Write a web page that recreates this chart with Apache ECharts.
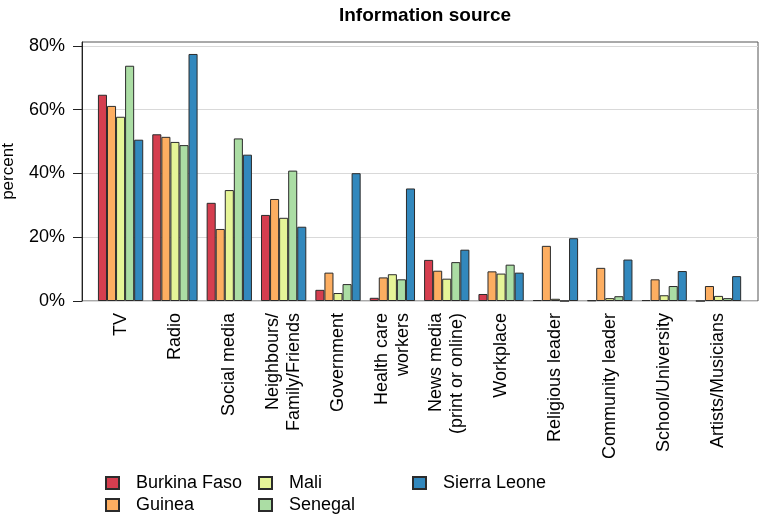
<!DOCTYPE html>
<html>
<head>
<meta charset="utf-8">
<script src="https://cdn.jsdelivr.net/npm/echarts@6/dist/echarts.min.js"></script>
<style>
html,body{margin:0;padding:0;background:#fff;}
#chart{width:759px;height:515px;}
</style>
</head>
<body>
<div id="chart"></div>
<script>
var categories = ['TV', 'Radio', 'Social media', 'Neighbours/\nFamily/Friends', 'Government',
  'Health care\nworkers', 'News media\n(print or online)', 'Workplace', 'Religious leader',
  'Community leader', 'School/University', 'Artists/Musicians'];
var countries = ['Burkina Faso', 'Guinea', 'Mali', 'Senegal', 'Sierra Leone'];
var burkinaFaso = [64.7, 52.3, 30.8, 27.0, 3.5, 1.0, 12.9, 2.2, 0.3, 0.2, 0.3, 0.0];
var guinea      = [61.2, 51.5, 22.6, 32.0, 8.9, 7.4, 9.5, 9.3, 17.3, 10.4, 6.8, 4.7];
var mali        = [57.8, 49.9, 34.8, 26.1, 2.5, 8.4, 7.0, 8.6, 0.7, 0.9, 1.8, 1.6];
var senegal     = [73.8, 48.9, 51.0, 40.9, 5.3, 6.8, 12.2, 11.4, 0.0, 1.5, 4.7, 0.9];
var sierraLeone = [50.6, 77.5, 45.9, 23.3, 40.1, 35.3, 16.1, 8.9, 19.7, 13.0, 9.4, 7.8];
var yTicks = [0, 20, 40, 60, 80];

var colors = ['#d53e4f', '#fdae61', '#e6f598', '#abdda4', '#3288bd'];
var seriesData = [burkinaFaso, guinea, mali, senegal, sierraLeone];
var FONT = '"Liberation Sans", Arial, Helvetica, sans-serif';
var YMAX = 81.25;

var chart = echarts.init(document.getElementById('chart'), null, {renderer: 'canvas'});

var series = countries.map(function (name, i) {
  return {
    name: name,
    type: 'bar',
    xAxisIndex: 1,
    yAxisIndex: 1,
    data: seriesData[i],
    barWidth: 9.06,
    barGap: '0%',
    itemStyle: {color: colors[i], borderColor: '#2b2b2b', borderWidth: 1},
    emphasis: {disabled: true},
    animation: false
  };
});

function legendFor(names, left) {
  return {
    data: names,
    orient: 'vertical',
    left: left,
    top: 474,
    padding: 0,
    itemWidth: 13,
    itemHeight: 12,
    itemGap: 4,
    icon: 'rect',
    selectedMode: false,
    textStyle: {fontFamily: FONT, fontSize: 18, color: '#000', padding: [0, 0, 0, 12]}
  };
}

var option = {
  backgroundColor: '#fff',
  animation: false,
  textStyle: {fontFamily: FONT},
  title: {
    text: 'Information source',
    left: 420,
    top: 1,
    textAlign: 'center',
    textStyle: {fontFamily: FONT, fontSize: 19, fontWeight: 'bold', color: '#000'}
  },
  legend: [
    legendFor(['Burkina Faso', 'Guinea'], 105),
    legendFor(['Mali', 'Senegal'], 258),
    legendFor(['Sierra Leone'], 412)
  ],
  grid: [
    {left: 82, top: 42, width: 676, height: 259, show: true, borderColor: '#555', borderWidth: 1,
      backgroundColor: 'transparent', containLabel: false, outerBoundsMode: 'none'},
    {left: 93.4, top: 42, width: 652.3, height: 259, show: false, containLabel: false, outerBoundsMode: 'none'}
  ],
  xAxis: [
    {gridIndex: 0, type: 'value', min: 0, max: 1, show: false},
    {
      gridIndex: 1, type: 'category', data: categories,
      axisLine: {show: false}, axisTick: {show: false},
      axisLabel: {interval: 0, rotate: 90, margin: 12, fontSize: 18, color: '#000', lineHeight: 21, fontFamily: FONT}
    }
  ],
  yAxis: [
    {
      gridIndex: 0, type: 'value', min: 0, max: YMAX, interval: 20,
      name: 'percent', nameLocation: 'middle', nameGap: 65,
      nameTextStyle: {fontSize: 17, color: '#000', fontFamily: FONT},
      axisLine: {show: true, lineStyle: {color: '#222', width: 1}},
      axisTick: {show: true, length: 9, inside: false, lineStyle: {color: '#222'}, customValues: yTicks},
      axisLabel: {fontSize: 18, color: '#000', margin: 17, fontFamily: FONT, customValues: yTicks,
        formatter: function (v) { return v + '%'; }},
      splitLine: {show: true, lineStyle: {color: '#d9d9d9', width: 1}}
    },
    {gridIndex: 1, type: 'value', min: 0, max: YMAX, show: false, splitLine: {show: false}}
  ],
  series: series
};

chart.setOption(option);
</script>
</body>
</html>
